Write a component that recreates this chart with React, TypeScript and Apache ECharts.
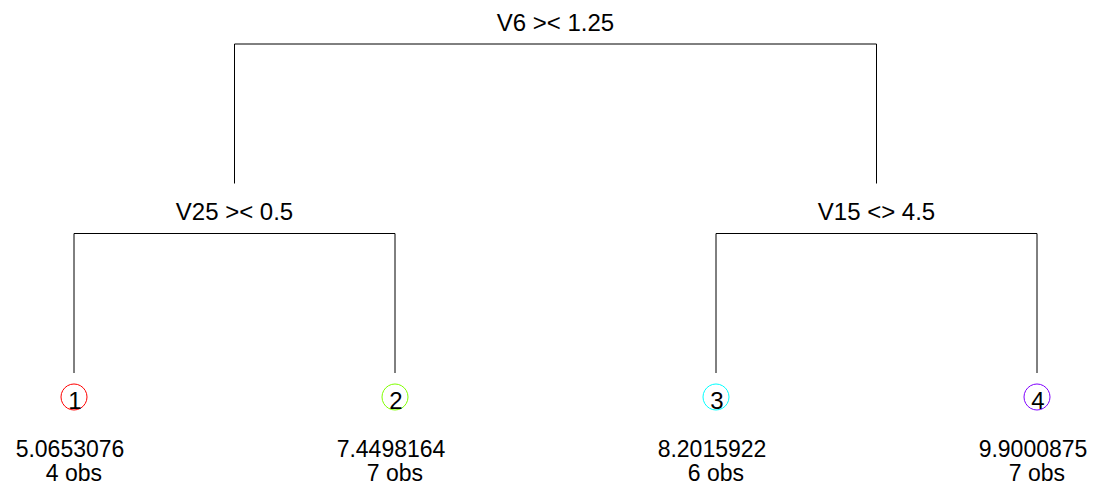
import React, { useEffect, useRef } from "react";
import * as echarts from "echarts";

// Tree data (mvpart/rpart style regression tree)
const splitLabels = ["V6 >< 1.25", "V25 >< 0.5", "V15 <> 4.5"];
const leafIds = ["1", "2", "3", "4"];
const leafMeans = ["5.0653076", "7.4498164", "8.2015922", "9.9000875"];
const leafObs = [4, 7, 6, 7];
const leafColors = ["#FF0000", "#80FF00", "#00FFFF", "#8000FF"];
// internal node children: index >= 0 -> internal node, negative -> leaf (-(i+1))
const internalChildren: [number, number][] = [
  [1, 2],
  [-1, -2],
  [-3, -4],
];
const internalLevels = [0, 1, 1];
const leafLevel = 2;

const FONT = "'Liberation Sans', Arial, Helvetica, sans-serif";

function nodeX(ref: number): number {
  if (ref < 0) return -ref; // leaf order 1..4
  const [l, r] = internalChildren[ref];
  return (nodeX(l) + nodeX(r)) / 2;
}
function nodeLevel(ref: number): number {
  return ref < 0 ? leafLevel : internalLevels[ref];
}

export default function App() {
  const ref = useRef<HTMLDivElement>(null);
  useEffect(() => {
    if (!ref.current) return;
    const chart = echarts.init(ref.current, null, { renderer: "svg" });

    const internalData = internalChildren.map((ch, i) => [
      nodeX(i),
      internalLevels[i],
      nodeX(ch[0]),
      nodeX(ch[1]),
      nodeLevel(ch[0]),
      nodeLevel(ch[1]),
      i,
    ]);
    const leafData = leafIds.map((_, i) => [i + 1, leafLevel, i]);

    const GAP = 50; // vertical gap above a child's bar where its label sits
    const lineStyle = { stroke: "#000", lineWidth: 1 };

    chart.setOption({
      animation: false,
      backgroundColor: "#fff",
      grid: { left: 74, right: 63, top: 44, bottom: 65 },
      xAxis: { type: "value", min: 1, max: 4, show: false },
      yAxis: { type: "value", min: 0, max: 2, inverse: true, show: false },
      series: [
        {
          type: "custom",
          coordinateSystem: "cartesian2d",
          clip: false,
          data: internalData,
          renderItem: (params: any, api: any) => {
            const x = api.value(0);
            const lv = api.value(1);
            const lx = api.value(2);
            const rx = api.value(3);
            const llv = api.value(4);
            const rlv = api.value(5);
            const idx = api.value(6);
            const p = api.coord([x, lv]);
            const pl = api.coord([lx, lv]);
            const pr = api.coord([rx, lv]);
            const cl = api.coord([lx, llv]);
            const cr = api.coord([rx, rlv]);
            return {
              type: "group",
              children: [
                {
                  type: "line",
                  shape: { x1: pl[0], y1: p[1], x2: pr[0], y2: p[1] },
                  style: lineStyle,
                },
                {
                  type: "line",
                  shape: { x1: pl[0], y1: p[1], x2: cl[0], y2: cl[1] - GAP },
                  style: lineStyle,
                },
                {
                  type: "line",
                  shape: { x1: pr[0], y1: p[1], x2: cr[0], y2: cr[1] - GAP },
                  style: lineStyle,
                },
                {
                  type: "text",
                  style: {
                    text: splitLabels[idx],
                    x: p[0],
                    y: p[1] - 22,
                    align: "center",
                    verticalAlign: "middle",
                    fontSize: 24,
                    fontFamily: FONT,
                    fill: "#000",
                  },
                },
              ],
            };
          },
        },
        {
          type: "custom",
          coordinateSystem: "cartesian2d",
          clip: false,
          data: leafData,
          renderItem: (params: any, api: any) => {
            const x = api.value(0);
            const lv = api.value(1);
            const i = api.value(2);
            const p = api.coord([x, lv]);
            return {
              type: "group",
              children: [
                {
                  type: "circle",
                  shape: { cx: p[0], cy: p[1] - 26, r: 13 },
                  style: { fill: "none", stroke: leafColors[i], lineWidth: 1 },
                },
                {
                  type: "text",
                  style: {
                    text: leafIds[i],
                    x: p[0] + 1,
                    y: p[1] - 23,
                    align: "center",
                    verticalAlign: "middle",
                    fontSize: 24,
                    lineHeight: 24,
                    fontFamily: FONT,
                    fill: "#000",
                  },
                },
                {
                  type: "text",
                  style: {
                    text: leafMeans[i],
                    x: p[0] - 4,
                    y: p[1] + 26,
                    align: "center",
                    verticalAlign: "middle",
                    fontSize: 23,
                    lineHeight: 23,
                    fontFamily: FONT,
                    fill: "#000",
                  },
                },
                {
                  type: "text",
                  style: {
                    text: leafObs[i] + " obs",
                    x: p[0],
                    y: p[1] + 49.5,
                    align: "center",
                    verticalAlign: "middle",
                    fontSize: 23,
                    lineHeight: 23,
                    fontFamily: FONT,
                    fill: "#000",
                  },
                },
              ],
            };
          },
        },
      ],
    });
    return () => chart.dispose();
  }, []);

  return (
    <div
      ref={ref}
      style={{ position: "absolute", left: 0, top: 0, width: 1100, height: 488 }}
    />
  );
}
